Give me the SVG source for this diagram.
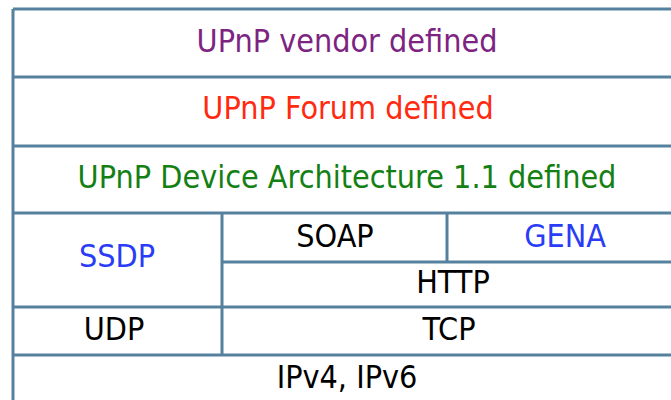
<svg xmlns="http://www.w3.org/2000/svg" width="671" height="400" viewBox="0 0 671 400">
<style>
.ln{stroke:#55819e;stroke-width:3;fill:none}
.t{font-family:"DejaVu Sans Condensed","DejaVu Sans",sans-serif;font-size:32px;text-anchor:middle}
</style>
<rect width="671" height="400" fill="#ffffff"/>
<g id="connectors">
<path class="ln" d="M13,9 H690 M13,77 H690 M13,146 H690 M13,213 H690 M222,262 H690 M13,307 H690 M13,355 H690 M13,9 V410 M222,213 V355 M447,213 V262"/>
</g>
<g id="vendor"><text class="t" x="347" y="52" fill="#7d2482">UPnP vendor defined</text></g>
<g id="forum"><text class="t" x="348" y="119" fill="#ff2a10">UPnP Forum defined</text></g>
<g id="uda"><text class="t" x="347" y="188" fill="#148014">UPnP Device Architecture 1.1 defined</text></g>
<g id="ssdp"><text class="t" x="117" y="267" fill="#2a3cf5">SSDP</text></g>
<g id="soap"><text class="t" x="335" y="247" fill="#000">SOAP</text></g>
<g id="gena"><text class="t" x="565" y="247" fill="#2a3cf5">GENA</text></g>
<g id="http"><text class="t" x="453" y="293" fill="#000">HTTP</text></g>
<g id="udp"><text class="t" x="114" y="340" fill="#000">UDP</text></g>
<g id="tcp"><text class="t" x="449" y="340" fill="#000">TCP</text></g>
<g id="ip"><text class="t" x="347" y="388" fill="#000">IPv4, IPv6</text></g>
</svg>
